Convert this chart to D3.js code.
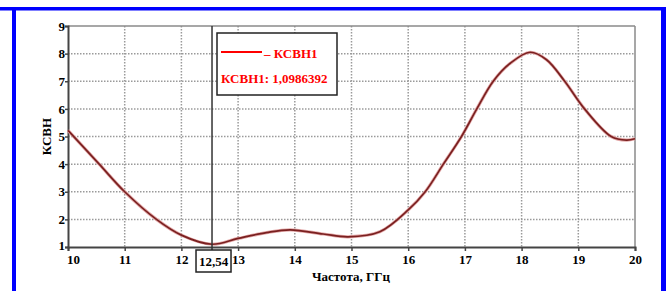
<!doctype html>
<html lang="ru">
<head>
  <meta charset="utf-8">
  <title>КСВН</title>
  <script src="https://cdnjs.cloudflare.com/ajax/libs/d3/7.8.5/d3.min.js"></script>
  <style>
    body { margin: 0; background: #fff; }
    text { font-family: "Liberation Serif", "Times New Roman", serif; font-weight: bold; }
  </style>
</head>
<body>
<svg width="670" height="291" id="svg"></svg>
<script>

	// frequency, GHz  /  VSWR
	var freq = [10, 10.55, 11, 11.56, 12, 12.54, 13, 13.5, 13.92, 14.5, 14.94, 15.5, 16, 16.3, 16.62, 16.94, 17.21, 17.5, 17.8, 18.15, 18.44, 18.76, 19.11, 19.58, 19.85, 20];
	var vswr = [5.22, 4.0, 3.0, 2.0, 1.43, 1.1, 1.31, 1.52, 1.62, 1.47, 1.37, 1.55, 2.34, 3.0, 4.0, 5.0, 6.0, 7.0, 7.65, 8.05, 7.78, 7.0, 6.0, 5.0, 4.87, 4.92];

	var xTicks = [10, 11, 12, 13, 14, 15, 16, 17, 18, 19, 20];
	var yTicks = [1, 2, 3, 4, 5, 6, 7, 8, 9];

	var cursorX = 12.54;
	var cursorLabel = '12,54';
	var legendName = '– КСВН1';
	var legendValue = 'КСВН1: 1,0986392';

	var svg = d3.select('#svg');

	// blue frame
	svg.append('rect').attr('x', 0).attr('y', 7).attr('width', 666).attr('height', 3.5).attr('fill', '#0000ff');
	svg.append('rect').attr('x', 12).attr('y', 7).attr('width', 4).attr('height', 284).attr('fill', '#0000ff');
	svg.append('rect').attr('x', 661).attr('y', 7).attr('width', 5).attr('height', 284).attr('fill', '#0000ff');

	var x = d3.scaleLinear().domain([10, 20]).range([68, 635]);
	var y = d3.scaleLinear().domain([1, 9]).range([247, 26]);

	// grid
	svg.selectAll('.vgrid')
		.data(xTicks.slice(1, -1))
		.enter()
		.append('line')
		.attr('x1', function(d) { return x(d); })
		.attr('x2', function(d) { return x(d); })
		.attr('y1', y(9))
		.attr('y2', y(1))
		.attr('stroke', '#9a9a9a')
		.attr('stroke-width', 1.5)
		.attr('stroke-dasharray', '1.5,1.5');

	svg.selectAll('.hgrid')
		.data(yTicks.slice(1, -1))
		.enter()
		.append('line')
		.attr('x1', x(10))
		.attr('x2', x(20))
		.attr('y1', function(d) { return y(d); })
		.attr('y2', function(d) { return y(d); })
		.attr('stroke', '#9a9a9a')
		.attr('stroke-width', 1.5)
		.attr('stroke-dasharray', '1.5,1.5');

	// frame: top / right light, left / bottom dark
	svg.append('line').attr('x1', x(10)).attr('x2', x(20)).attr('y1', y(9)).attr('y2', y(9))
		.attr('stroke', '#8a8a8a').attr('stroke-width', 1.5);
	svg.append('line').attr('x1', x(20)).attr('x2', x(20)).attr('y1', y(9)).attr('y2', y(1))
		.attr('stroke', '#8a8a8a').attr('stroke-width', 1.5);

	var xAxis = svg.append('g')
		.attr('transform', 'translate(0,' + y(1) + ')')
		.call(d3.axisBottom(x).tickValues(xTicks).tickSize(4).tickPadding(4).tickFormat(d3.format('d')));
	var yAxis = svg.append('g')
		.attr('transform', 'translate(' + x(10) + ',0)')
		.call(d3.axisLeft(y).tickValues(yTicks).tickSize(3).tickPadding(0).tickFormat(d3.format('d')));

	[xAxis, yAxis].forEach(function(a) {
		a.select('.domain').attr('stroke', '#444').attr('stroke-width', 2);
		a.selectAll('.tick line').attr('stroke', '#444').attr('stroke-width', 1.5);
		a.selectAll('text').attr('fill', '#000').style('font-size', '13px')
			.style('font-family', '"Liberation Serif", serif').style('font-weight', 'bold');
	});
	// first x label sits a little to the right, clear of the "1"
	xAxis.selectAll('.tick text').filter(function(d) { return d === 10; }).attr('dx', 5);
	yAxis.selectAll('.tick text').filter(function(d) { return d === 1; }).attr('dy', '0.2em');

	// axis titles
	svg.append('text')
		.attr('transform', 'translate(51,' + y(5) + ') rotate(-90)')
		.attr('text-anchor', 'middle')
		.style('font-size', '13px')
		.text('КСВН');

	svg.append('text')
		.attr('x', 351)
		.attr('y', 281)
		.attr('text-anchor', 'middle')
		.style('font-size', '13px')
		.text('Частота, ГГц');

	// curve
	var line = d3.line()
		.x(function(d, i) { return x(freq[i]); })
		.y(function(d) { return y(d); })
		.curve(d3.curveCatmullRom.alpha(0.5));

	svg.append('path')
		.attr('d', line(vswr))
		.attr('fill', 'none')
		.attr('stroke', '#e3a8a8')
		.attr('stroke-width', 3.2);
	svg.append('path')
		.attr('d', line(vswr))
		.attr('fill', 'none')
		.attr('stroke', '#7a2020')
		.attr('stroke-width', 1.7);

	// cursor
	svg.append('line')
		.attr('x1', x(cursorX)).attr('x2', x(cursorX))
		.attr('y1', y(9)).attr('y2', 250)
		.attr('stroke', '#333').attr('stroke-width', 1.5);

	svg.append('rect')
		.attr('x', x(cursorX) - 16).attr('y', 250)
		.attr('width', 35).attr('height', 22)
		.attr('fill', '#fff').attr('stroke', '#222').attr('stroke-width', 1.5);
	svg.append('text')
		.attr('x', x(cursorX) + 1.5).attr('y', 266)
		.attr('text-anchor', 'middle')
		.style('font-size', '13px')
		.text(cursorLabel);

	// legend
	svg.append('rect')
		.attr('x', 217).attr('y', 33)
		.attr('width', 120).attr('height', 62)
		.attr('fill', '#fff').attr('stroke', '#222').attr('stroke-width', 1.5);
	svg.append('line')
		.attr('x1', 221).attr('x2', 262).attr('y1', 52).attr('y2', 52)
		.attr('stroke', '#ff0000').attr('stroke-width', 2);
	svg.append('text')
		.attr('x', 264).attr('y', 58)
		.attr('fill', '#ff0000')
		.style('font-size', '13px')
		.text(legendName);
	svg.append('text')
		.attr('x', 221).attr('y', 83)
		.attr('fill', '#ff0000')
		.style('font-size', '13px')
		.text(legendValue);

</script>
</body>
</html>
